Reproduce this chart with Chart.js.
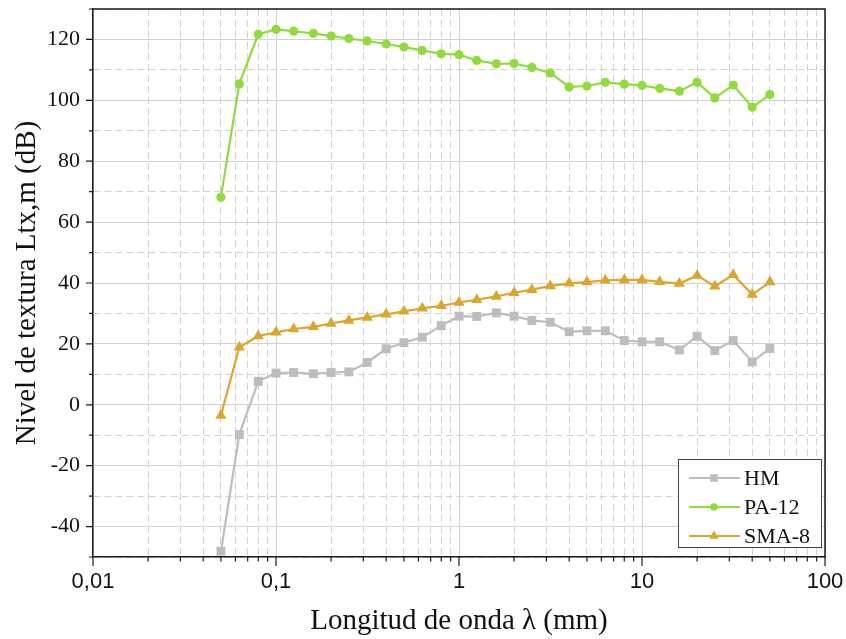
<!DOCTYPE html>
<html>
<head>
<meta charset="utf-8">
<script src="https://cdn.jsdelivr.net/npm/chart.js@4.4.1/dist/chart.umd.min.js"></script>
<style>
  html, body { margin: 0; padding: 0; background: #fff; }
</style>
</head>
<body>
<canvas id="textura" width="846" height="639"></canvas>
<script>
// 1/3-octave wavelength bands (mm)
const wavelengths = [0.05, 0.063, 0.08, 0.1, 0.125, 0.16, 0.2, 0.25, 0.315, 0.4, 0.5, 0.63, 0.8,
  1, 1.25, 1.6, 2, 2.5, 3.15, 4, 5, 6.3, 8, 10, 12.5, 16, 20, 25, 31.5, 40, 50];

// texture level Ltx,m (dB) per band
const hm = [-48.1, -9.8, 7.7, 10.4, 10.6, 10.2, 10.6, 10.8, 13.9, 18.4, 20.4, 22.2, 26.0,
  29.1, 29.0, 30.2, 29.1, 27.7, 27.1, 24.0, 24.3, 24.3, 21.1, 20.7, 20.7, 18.0, 22.5, 17.8, 21.1, 14.1, 18.5];
const pa12 = [68.2, 105.4, 121.7, 123.3, 122.7, 122.0, 121.1, 120.3, 119.5, 118.5, 117.5, 116.4, 115.3,
  115.0, 113.1, 112.0, 112.1, 110.8, 109.0, 104.4, 104.7, 105.9, 105.3, 104.9, 103.9, 103.0, 105.9, 100.8, 105.0, 97.8, 101.9];
const sma8 = [-3.5, 18.9, 22.6, 23.8, 24.9, 25.6, 26.7, 27.7, 28.7, 29.7, 30.7, 31.7, 32.5,
  33.6, 34.5, 35.6, 36.8, 37.8, 39.0, 39.9, 40.3, 40.9, 41.0, 41.0, 40.4, 39.8, 42.5, 38.9, 42.7, 36.2, 40.3];

const xDecades = [0.01, 0.1, 1, 10, 100];
const xTickLabels = ['0,01', '0,1', '1', '10', '100'];
const yTickLabels = [-40, -20, 0, 20, 40, 60, 80, 100, 120];

const GRID = '#d2d2d2';
const AXIS = '#1a1a1a';

// decades plus 2..9 in between, for log grid
const xAllTicks = [];
xDecades.forEach((d, i) => {
  xAllTicks.push(d);
  if (i < xDecades.length - 1) for (let k = 2; k <= 9; k++) xAllTicks.push(+(d * k).toPrecision(3));
});

const isDecade = v => Math.abs(Math.log10(v) - Math.round(Math.log10(v))) < 1e-6;
const isLabelledY = v => yTickLabels.includes(v);

function pts(values) {
  return wavelengths.map((w, i) => ({x: w, y: values[i]}));
}

const series = [
  {label: 'HM', data: hm, color: '#bdbdbd', style: 'rect', r: 6.3},
  {label: 'PA-12', data: pa12, color: '#8fdc3a', style: 'circle', r: 4.6},
  {label: 'SMA-8', data: sma8, color: '#dea52b', style: 'triangle', r: 6.5}
];

function drawMarker(ctx, style, x, y, r) {
  ctx.beginPath();
  if (style === 'circle') {
    ctx.arc(x, y, r, 0, Math.PI * 2);
  } else if (style === 'rect') {
    ctx.rect(x - r, y - r, 2 * r, 2 * r);
  } else {
    ctx.moveTo(x, y - r);
    ctx.lineTo(x + r * 0.87, y + r * 0.5);
    ctx.lineTo(x - r * 0.87, y + r * 0.5);
    ctx.closePath();
  }
  ctx.fill();
}

// tick marks (outside), top/right frame and the legend box
const framePlugin = {
  id: 'frame',
  afterDraw(chart) {
    const {ctx, chartArea: a, scales: {x, y}} = chart;
    ctx.save();
    ctx.strokeStyle = AXIS;
    ctx.lineWidth = 1.5;
    ctx.beginPath();
    ctx.moveTo(a.left, a.top); ctx.lineTo(a.right, a.top); ctx.lineTo(a.right, a.bottom);
    ctx.stroke();

    ctx.lineWidth = 1.2;
    ctx.beginPath();
    x.ticks.forEach(t => {
      const px = x.getPixelForValue(t.value);
      const len = isDecade(t.value) ? 9 : 4.5;
      ctx.moveTo(px, a.bottom); ctx.lineTo(px, a.bottom + len);
    });
    y.ticks.forEach(t => {
      const py = y.getPixelForValue(t.value);
      const len = isLabelledY(t.value) ? 7 : 4;
      ctx.moveTo(a.left, py); ctx.lineTo(a.left - len, py);
    });
    ctx.stroke();

    // legend
    const lx = 678, ly = 459, lw = 143, lh = 88;
    ctx.fillStyle = '#fff';
    ctx.fillRect(lx, ly, lw, lh);
    ctx.strokeStyle = '#444';
    ctx.lineWidth = 1;
    ctx.strokeRect(lx + 0.5, ly + 0.5, lw, lh);
    ctx.font = '22px "Liberation Serif", "Times New Roman", serif';
    ctx.textBaseline = 'middle';
    series.forEach((s, i) => {
      const cy = ly + 19 + i * 29;
      ctx.strokeStyle = s.color;
      ctx.fillStyle = s.color;
      ctx.lineWidth = 2;
      ctx.beginPath();
      ctx.moveTo(lx + 11, cy); ctx.lineTo(lx + 62, cy);
      ctx.stroke();
      drawMarker(ctx, s.style, lx + 36, cy, s.style === 'triangle' ? 5.5 : 3.8);
      ctx.fillStyle = '#111';
      ctx.fillText(s.label, lx + 66, cy + 1);
    });
    ctx.restore();
  }
};

new Chart(document.getElementById('textura'), {
  type: 'scatter',
  data: {
    datasets: series.map(s => ({
      label: s.label,
      data: pts(s.data),
      showLine: true,
      borderColor: s.color,
      backgroundColor: s.color,
      borderWidth: 2.2,
      pointStyle: s.style,
      pointRadius: s.r,
      pointBackgroundColor: s.color,
      pointBorderColor: s.color,
      pointBorderWidth: 0
    }))
  },
  options: {
    responsive: false,
    animation: false,
    devicePixelRatio: 1,
    layout: {padding: {top: 9, right: 21, left: 0, bottom: 0}},
    plugins: {legend: {display: false}, tooltip: {enabled: false}},
    scales: {
      x: {
        type: 'logarithmic',
        min: 0.01,
        max: 100,
        afterBuildTicks: axis => { axis.ticks = xAllTicks.map(v => ({value: v})); },
        afterFit: axis => {
          axis.height = 82;
          axis.paddingLeft = 0;
          axis.paddingRight = 0;
        },
        grid: {
          color: GRID,
          lineWidth: 1,
          drawTicks: false
        },
        border: {
          display: true,
          color: AXIS,
          width: 1.5,
          dash: ctx => (ctx.tick && !isDecade(ctx.tick.value)) ? [7, 4] : []
        },
        ticks: {
          autoSkip: false,
          maxRotation: 0,
          padding: 12,
          color: '#111',
          font: {family: '"Liberation Sans", Arial, sans-serif', size: 22},
          callback: value => {
            const i = xDecades.findIndex(d => Math.abs(d - value) < d * 1e-6);
            return i >= 0 ? xTickLabels[i] : '';
          }
        },
        title: {
          display: true,
          text: 'Longitud de onda λ (mm)',
          color: '#111',
          padding: {top: 0, bottom: 0},
          font: {family: '"Liberation Serif", "Times New Roman", serif', size: 29, weight: 'normal'}
        }
      },
      y: {
        type: 'linear',
        min: -50,
        max: 130,
        afterFit: axis => {
          axis.width = 93;
          axis.paddingTop = 0;
          axis.paddingBottom = 0;
        },
        grid: {
          color: GRID,
          lineWidth: 1,
          drawTicks: false
        },
        border: {
          display: true,
          color: AXIS,
          width: 1.5,
          dash: ctx => (ctx.tick && !isLabelledY(ctx.tick.value)) ? [7, 4] : []
        },
        ticks: {
          stepSize: 10,
          autoSkip: false,
          padding: 13,
          color: '#111',
          font: {family: '"Liberation Serif", "Times New Roman", serif', size: 22},
          callback: value => isLabelledY(value) ? String(value) : ''
        },
        title: {
          display: true,
          text: 'Nivel de textura Ltx,m (dB)',
          color: '#111',
          padding: {top: 10, bottom: 0},
          font: {family: '"Liberation Serif", "Times New Roman", serif', size: 29, weight: 'normal'}
        }
      }
    }
  },
  plugins: [framePlugin]
});
</script>
</body>
</html>
